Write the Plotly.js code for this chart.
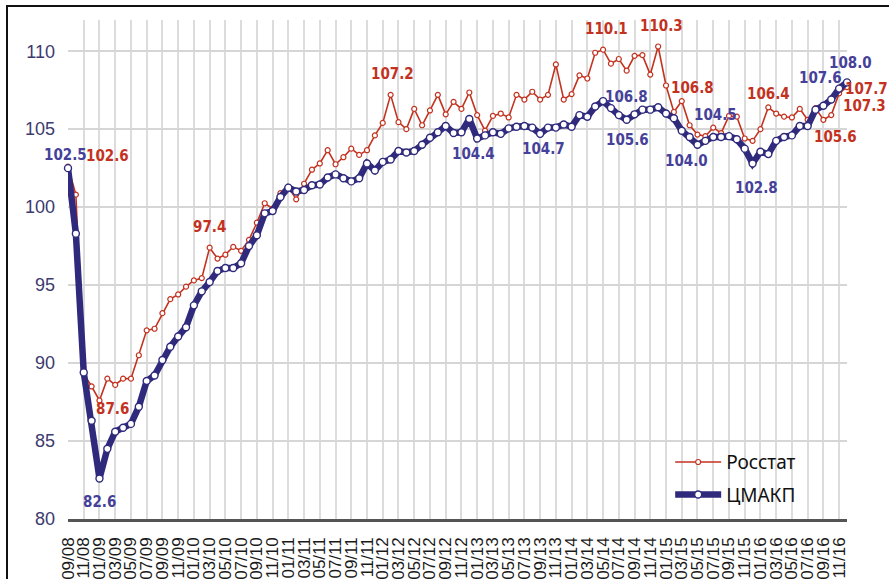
<!DOCTYPE html>
<html>
<head>
<meta charset="utf-8">
<script src="https://cdn.plot.ly/plotly-3.0.1.min.js"></script>
<style>
  html, body { margin: 0; padding: 0; background: #fff; }
  #wrap { position: relative; width: 889px; height: 579px; overflow: hidden; }
  #chart { position: absolute; left: 0; top: 0; width: 889px; height: 579px; }
  #frame { position: absolute; left: 6px; top: 5px; width: 900px; height: 600px;
           border-top: 2.5px solid #111; border-left: 2.5px solid #111; pointer-events: none; }
</style>
</head>
<body>
<div id="wrap"><div id="chart"></div><div id="frame"></div></div>
<script>
// Months from 09/08 to 12/16
const categories = [
  "09/08","10/08","11/08","12/08",
  "01/09","02/09","03/09","04/09","05/09","06/09","07/09","08/09","09/09","10/09","11/09","12/09",
  "01/10","02/10","03/10","04/10","05/10","06/10","07/10","08/10","09/10","10/10","11/10","12/10",
  "01/11","02/11","03/11","04/11","05/11","06/11","07/11","08/11","09/11","10/11","11/11","12/11",
  "01/12","02/12","03/12","04/12","05/12","06/12","07/12","08/12","09/12","10/12","11/12","12/12",
  "01/13","02/13","03/13","04/13","05/13","06/13","07/13","08/13","09/13","10/13","11/13","12/13",
  "01/14","02/14","03/14","04/14","05/14","06/14","07/14","08/14","09/14","10/14","11/14","12/14",
  "01/15","02/15","03/15","04/15","05/15","06/15","07/15","08/15","09/15","10/15","11/15","12/15",
  "01/16","02/16","03/16","04/16","05/16","06/16","07/16","08/16","09/16","10/16","11/16","12/16"
];

// Росстат
const rosstat = [
  102.6, 100.8, 89.3, 88.5, 87.6, 89.0, 88.6, 89.0, 89.0, 90.5,
  92.1, 92.2, 93.2, 94.1, 94.4, 94.9, 95.3, 95.45, 97.4, 96.7,
  96.95, 97.45, 97.2, 97.9, 99.0, 100.25, 99.9, 100.9, 101.3, 100.5,
  101.5, 102.4, 102.8, 103.65, 102.75, 103.2, 103.75, 103.35, 103.65, 104.6,
  105.4, 107.2, 105.45, 105.0, 106.3, 105.25, 106.2, 107.2, 105.95, 106.75,
  106.3, 107.35, 105.9, 104.9, 105.85, 106.0, 105.75, 107.2, 106.9, 107.4,
  106.9, 107.2, 109.15, 106.9, 107.25, 108.45, 108.25, 109.9, 110.1, 109.2,
  109.5, 108.75, 109.7, 109.75, 108.5, 110.3, 107.8, 106.1, 106.8, 105.25,
  104.65, 104.55, 105.1, 104.75, 105.85, 105.8, 104.4, 104.25, 105.0, 106.4,
  106.0, 105.8, 105.75, 106.3, 105.6, 106.35, 105.6, 105.9, 107.3, 107.7
];

// ЦМАКП
const cmakp = [
  102.5, 98.3, 89.4, 86.3, 82.6, 84.5, 85.6, 85.85, 86.1, 87.2,
  88.85, 89.2, 90.2, 91.05, 91.7, 92.3, 93.7, 94.6, 95.2, 95.9,
  96.1, 96.1, 96.4, 97.5, 98.2, 99.6, 99.75, 100.65, 101.25, 101.0,
  101.1, 101.4, 101.45, 101.9, 102.1, 101.85, 101.65, 101.85, 102.8, 102.35,
  102.9, 103.05, 103.6, 103.5, 103.6, 104.0, 104.45, 104.8, 105.2, 104.75,
  104.8, 105.65, 104.4, 104.6, 104.8, 104.7, 105.05, 105.15, 105.2, 105.1,
  104.7, 105.1, 105.1, 105.3, 105.15, 105.9, 105.8, 106.45, 106.8, 106.35,
  105.9, 105.6, 105.95, 106.25, 106.25, 106.4, 106.0, 105.7, 104.9, 104.5,
  104.0, 104.25, 104.5, 104.5, 104.55, 104.35, 103.75, 102.8, 103.55, 103.4,
  104.25, 104.5, 104.6, 105.2, 105.2, 106.25, 106.5, 106.9, 107.6, 108.0
];

const seriesNames = ["Росстат", "ЦМАКП"];
const yTicks = [80, 85, 90, 95, 100, 105, 110];

// Which points carry a value label (index into the series) and where the text sits
const rosstatLabels = [
  {i: 0,  dx: 39, dy: 11}, {i: 4,  dx: 13, dy: -9}, {i: 18, dx: 0, dy: 21},
  {i: 41, dx: 2,  dy: 21}, {i: 68, dx: 3,  dy: 21}, {i: 75, dx: 3, dy: 21},
  {i: 78, dx: 11, dy: 13}, {i: 89, dx: 0,  dy: 13}, {i: 96, dx: 12, dy: -17},
  {i: 98, dx: 25, dy: -13}, {i: 99, dx: 19, dy: -2}
];
const cmakpLabels = [
  {i: 0,  dx: -3,  dy: 13}, {i: 4,  dx: 0,  dy: -24}, {i: 52, dx: -4, dy: -15},
  {i: 60, dx: 3,   dy: -15}, {i: 68, dx: 23, dy: 4},  {i: 71, dx: 1,  dy: -20},
  {i: 80, dx: -11, dy: -16}, {i: 82, dx: 2,  dy: 22}, {i: 87, dx: 4,  dy: -25},
  {i: 98, dx: -19, dy: 11}, {i: 99, dx: 3,  dy: 19}
];

const RED = '#c3321f';
const BLUE = '#2f2a7c';
const BLUE_TXT = '#45419a';
const labelFont = "'Liberation Sans Narrow', 'DejaVu Sans Condensed', 'Liberation Sans', sans-serif";

const traces = [
  {
    x: categories, y: rosstat, name: seriesNames[0], type: 'scatter', mode: 'lines+markers',
    line: {color: RED, width: 1.6}, cliponaxis: false,
    marker: {symbol: 'circle', size: 5, color: '#ffffff', line: {color: RED, width: 1.2}},
    legend: 'legend'
  },
  {
    x: categories, y: cmakp, name: seriesNames[1], type: 'scatter', mode: 'lines+markers',
    line: {color: BLUE, width: 6.5}, cliponaxis: false,
    marker: {symbol: 'circle', size: 7, color: '#ffffff', line: {color: BLUE, width: 1.4}},
    legend: 'legend2'
  }
];

const annotations = [];
rosstatLabels.forEach(l => annotations.push({
  x: categories[l.i], y: rosstat[l.i], text: rosstat[l.i].toFixed(1), showarrow: false,
  xshift: l.dx, yshift: l.dy, xanchor: 'center', yanchor: 'middle',
  font: {family: labelFont, size: 15, color: RED, weight: 'bold'}
}));
cmakpLabels.forEach(l => annotations.push({
  x: categories[l.i], y: cmakp[l.i], text: cmakp[l.i].toFixed(1), showarrow: false,
  xshift: l.dx, yshift: l.dy, xanchor: 'center', yanchor: 'middle',
  font: {family: labelFont, size: 15, color: BLUE_TXT, weight: 'bold'}
}));

const tickCats = categories.filter((c, k) => k % 2 === 0);

const legendFont = {family: "'Noto Sans', 'Open Sans', sans-serif", size: 19, color: '#111'};

const layout = {
  width: 889, height: 579,
  margin: {l: 68, r: 42, t: 20, b: 60, pad: 0},
  paper_bgcolor: 'rgba(0,0,0,0)', plot_bgcolor: '#ffffff',
  showlegend: true,
  xaxis: {
    type: 'category', range: [0, categories.length - 1],
    tickmode: 'array', tickvals: tickCats, ticktext: tickCats,
    tickangle: -90, ticks: '', ticklabelstandoff: 9,
    tickfont: {family: "'Liberation Sans', Arial, sans-serif", size: 17, color: '#1a1a1a'},
    showgrid: true, gridcolor: '#dcdcdc', gridwidth: 2,
    showline: true, linecolor: '#555555', linewidth: 2.5,
    zeroline: false, fixedrange: true
  },
  yaxis: {
    range: [80, 112], tickmode: 'array', tickvals: yTicks, ticktext: yTicks.map(String),
    ticks: '', ticklabelstandoff: 12,
    tickfont: {family: "'Liberation Sans', Arial, sans-serif", size: 18, color: '#3d3a6e'},
    showgrid: true, gridcolor: '#d6d6d6', gridwidth: 2,
    showline: false, zeroline: false, fixedrange: true
  },
  legend: {
    x: 0.773, y: 0.152, xanchor: 'left', yanchor: 'top', itemwidth: 46,
    bgcolor: 'rgba(255,255,255,0)', borderwidth: 0, font: legendFont
  },
  legend2: {
    x: 0.773, y: 0.087, xanchor: 'left', yanchor: 'top', itemwidth: 46,
    bgcolor: 'rgba(255,255,255,0)', borderwidth: 0, font: legendFont
  },
  annotations: annotations
};

Plotly.newPlot('chart', traces, layout, {displayModeBar: false, staticPlot: true});
</script>
</body>
</html>
